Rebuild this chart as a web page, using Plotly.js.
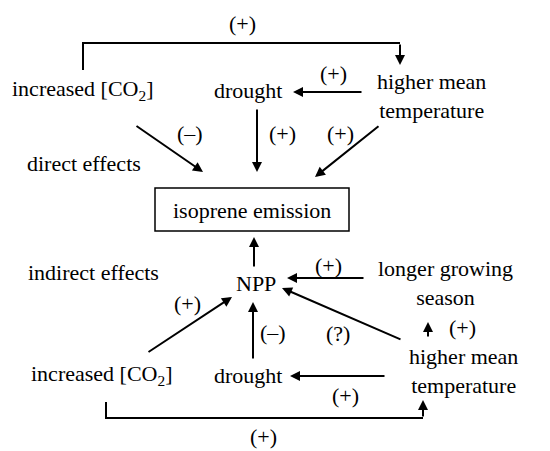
<!DOCTYPE html>
<html>
<head>
<meta charset="utf-8">
<script src="https://cdn.plot.ly/plotly-3.0.1.min.js"></script>
<style>html,body{margin:0;padding:0;background:#fff;}#chart{width:550px;height:451px;}</style>
</head>
<body>
<div id="chart"></div>
<script>
// ---- content (text of the diagram) ----
const nodeLabels = [
  'increased [CO<sub>2</sub>]',
  'drought',
  'higher mean<br>temperature',
  'isoprene emission',
  'NPP',
  'longer growing<br>season',
  'higher mean<br>temperature',
  'increased [CO<sub>2</sub>]',
  'drought'
];
const groupLabels = ['direct effects', 'indirect effects'];
const effectSigns = ['(+)', '(+)', '(\u2013)', '(+)', '(+)', '(+)', '(+)', '(?)', '(+)', '(\u2013)', '(+)', '(+)'];

// ---- layout geometry (pixel-space placement) ----
const nodePos = [[82,90],[248,90],[431,96],[252,210],[256,283],[445,283],[463,371],[101,375],[248,375]];
const groupPos = [[84,163],[93,272]];
const signPos = [[242,23],[333,73],[190,133],[282,133],[340,133],[328,265],[462,327],[338,333],[187,303],[273,332],[345,395],[263,436]];
const arrowSegs = [
  [363,92,293,92],[135,125,203,172],[257,108,257,172],[380,125,315,177],
  [254,268,254,237],[365,278,287,278],[428,338,428,322],[402,340,282,288],
  [147,353,232,297],[253,360,253,302],[386,376,290,376],
  [400,43,400,65],[423,418,423,400]
];
const bracketPaths = [
  'M 83 70 L 83 43 L 400 43',
  'M 106 402 L 106 418 L 423 418'
];

const font = {family: 'Liberation Serif', size: 22, color: '#000'};
const annotations = [];
nodeLabels.forEach((t, i) => annotations.push({x: nodePos[i][0], y: nodePos[i][1], xref: 'x', yref: 'y', text: t, showarrow: false, font: font, xanchor: 'center', yanchor: 'middle'}));
groupLabels.forEach((t, i) => annotations.push({x: groupPos[i][0], y: groupPos[i][1], xref: 'x', yref: 'y', text: t, showarrow: false, font: font, xanchor: 'center', yanchor: 'middle'}));
effectSigns.forEach((t, i) => annotations.push({x: signPos[i][0], y: signPos[i][1], xref: 'x', yref: 'y', text: t, showarrow: false, font: font, xanchor: 'center', yanchor: 'middle'}));
arrowSegs.forEach(s => annotations.push({
  x: s[2], y: s[3], ax: s[0], ay: s[1], xref: 'x', yref: 'y', axref: 'x', ayref: 'y',
  text: '', showarrow: true, arrowhead: 2, arrowsize: 1, arrowwidth: 2, arrowcolor: '#000', standoff: 0, startstandoff: 0
}));

const shapes = [
  {type: 'rect', xref: 'x', yref: 'y', x0: 155, y0: 188, x1: 349, y1: 231, line: {color: '#000', width: 1.5}}
];
bracketPaths.forEach(p => shapes.push({type: 'path', xref: 'x', yref: 'y', path: p, line: {color: '#000', width: 2}}));

const layout = {
  width: 550, height: 451,
  margin: {l: 0, r: 0, t: 0, b: 0},
  paper_bgcolor: '#fff', plot_bgcolor: '#fff',
  font: {family: 'Liberation Serif', size: 22, color: '#000'},
  xaxis: {range: [0, 550], visible: false, fixedrange: true},
  yaxis: {range: [451, 0], visible: false, fixedrange: true},
  showlegend: false,
  annotations: annotations,
  shapes: shapes
};
Plotly.newPlot('chart', [], layout, {staticPlot: true, displayModeBar: false});
</script>
</body>
</html>
